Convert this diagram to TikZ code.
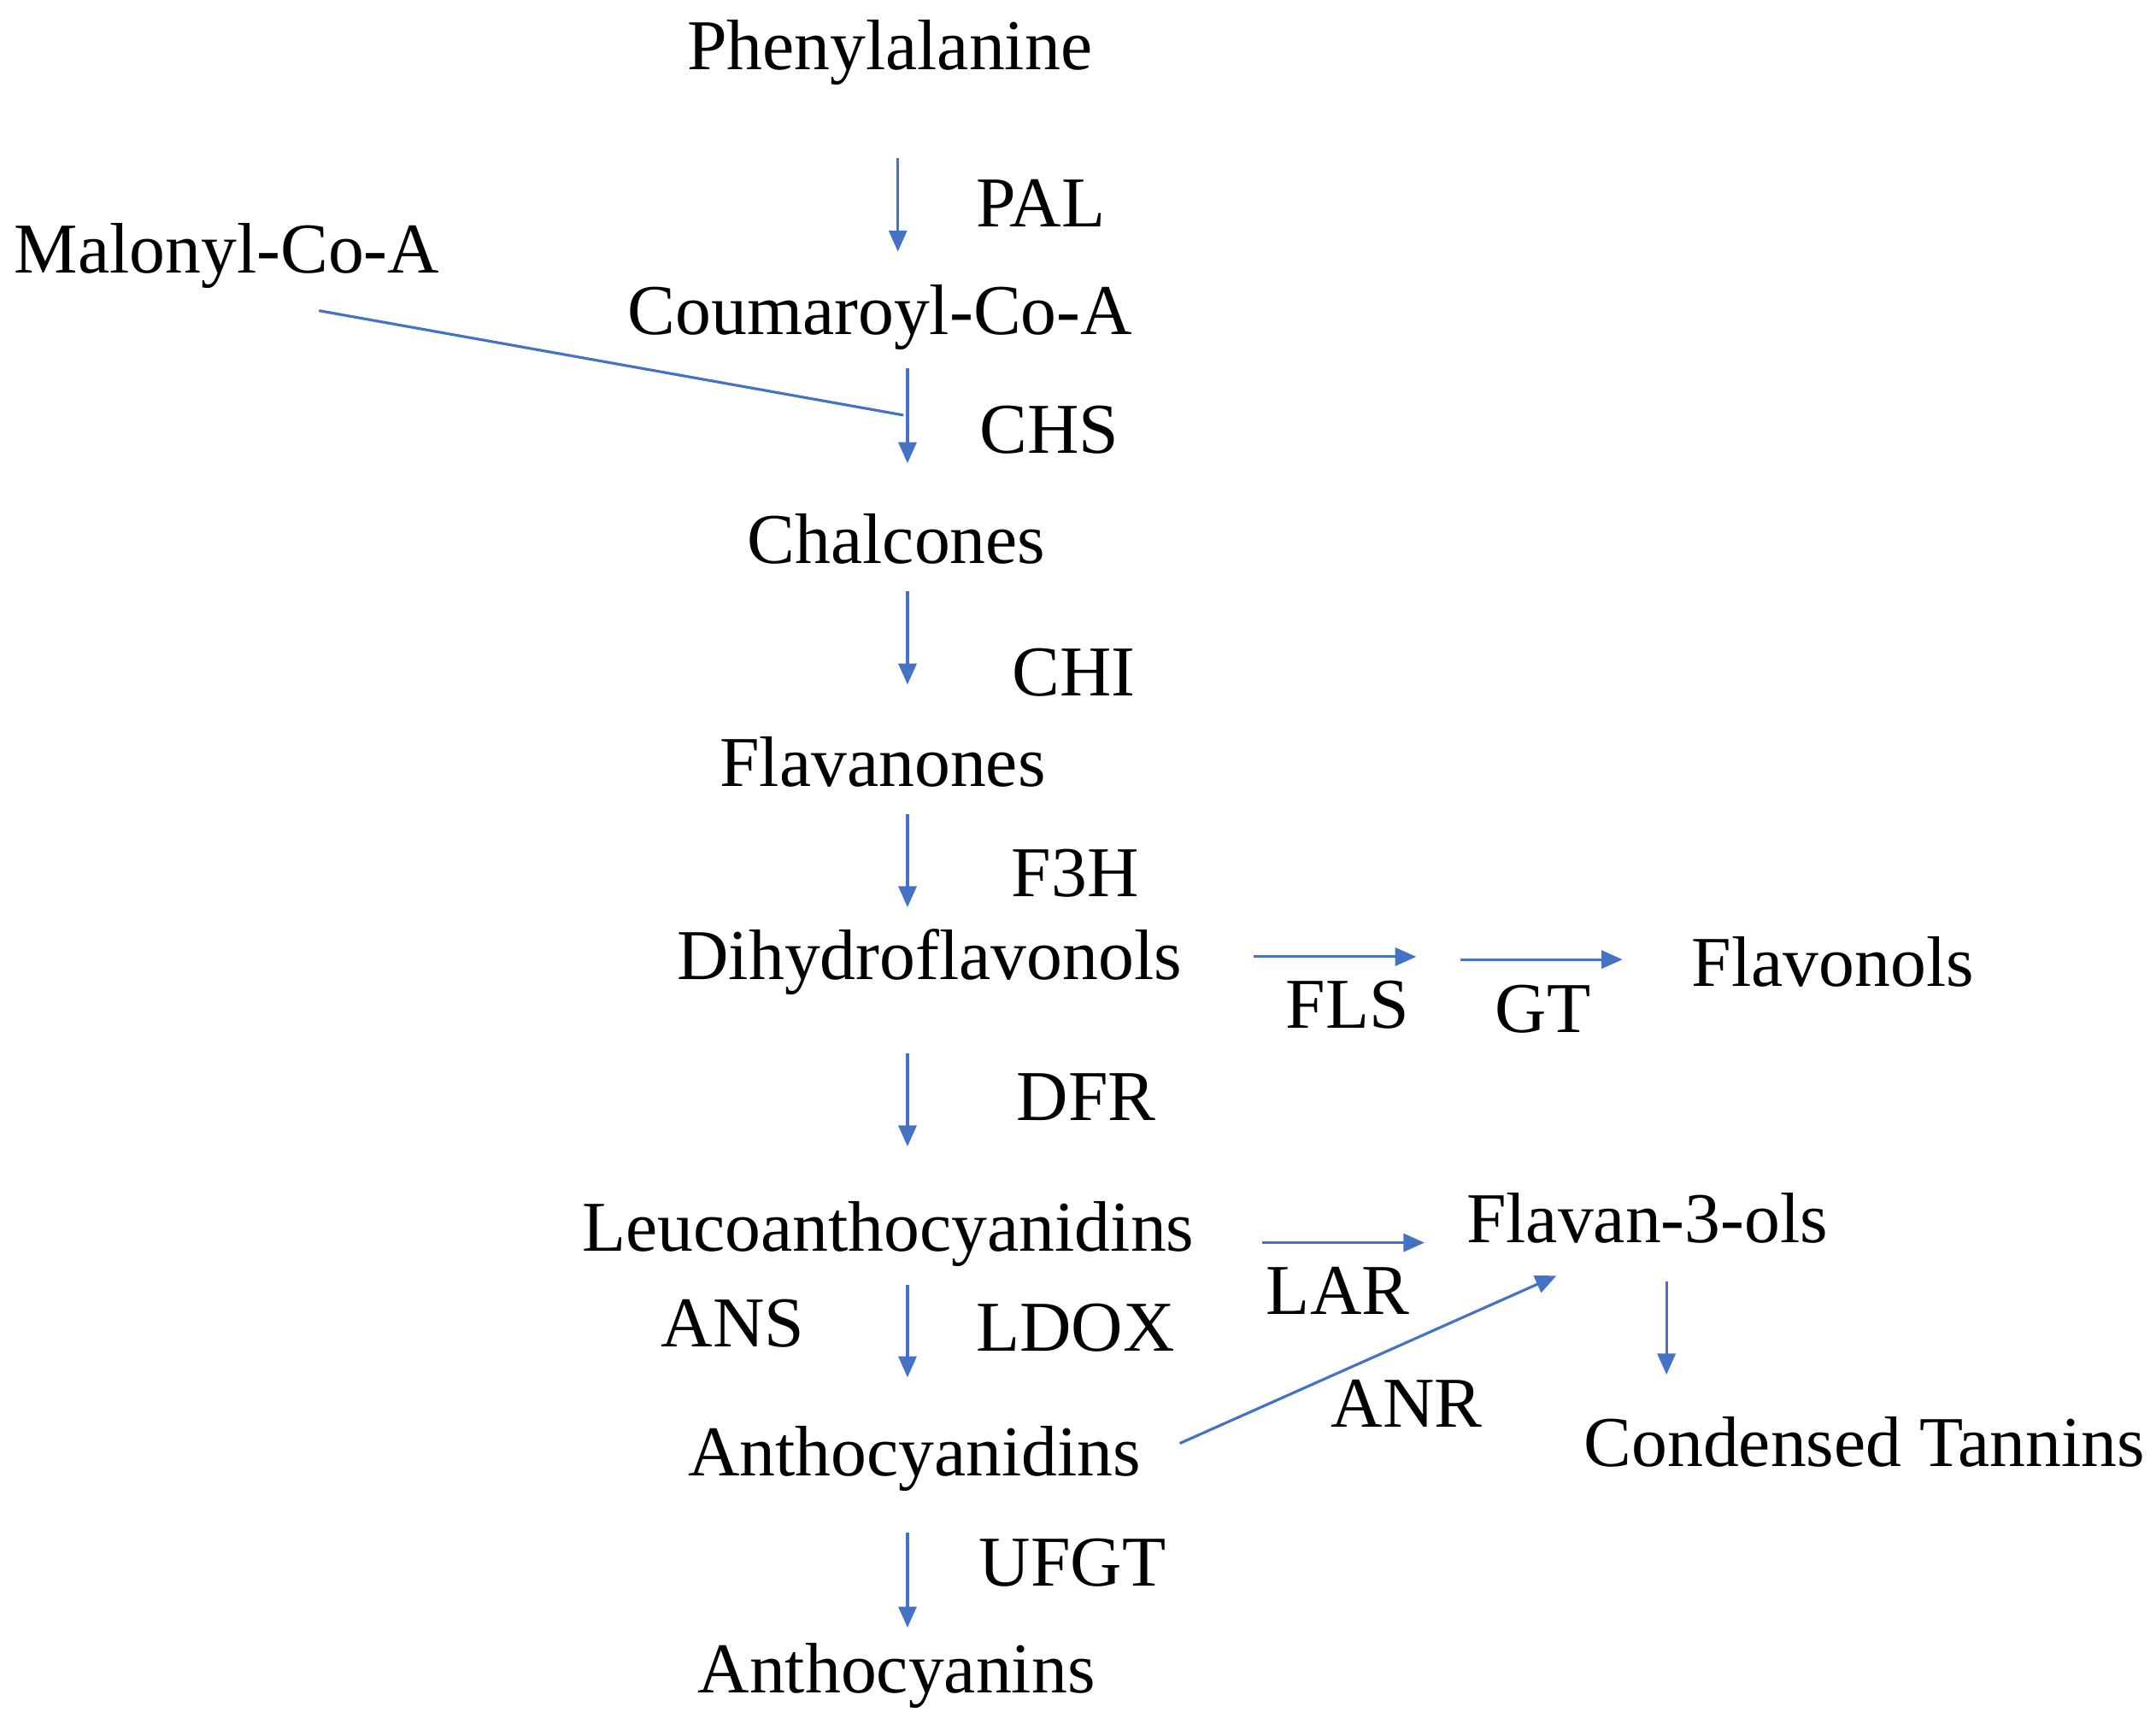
\documentclass[tikz,border=0pt]{standalone}
\usepackage{fontspec}
\setmainfont{Liberation Serif}
\usetikzlibrary{arrows.meta}
\definecolor{arrowblue}{RGB}{68,114,196}

\begin{document}
\begin{tikzpicture}[
    x=0.01609cm, y=-0.01609cm,
    lbl/.style={inner sep=0pt, font=\fontsize{23.8}{26}\selectfont},
    arrow/.style={-{Triangle[length=7pt,width=6pt]}, arrowblue, line width=0.9pt},
    link/.style={arrowblue, line width=0.9pt}
]
    \useasboundingbox (0,0) rectangle (1568,1254);
    % compounds
    \node[lbl] (phe) at (647,38) {Phenylalanine};
    \node[lbl] (mal) at (165,186) {Malonyl-Co-A};
    \node[lbl] (cou) at (640,231) {Coumaroyl-Co-A};
    \node[lbl] (cha) at (652,392) {Chalcones};
    \node[lbl] (flv) at (642,554) {Flavanones};
    \node[lbl] (dhf) at (676,700) {Dihydroflavonols};
    \node[lbl] (fol) at (1333,700) {Flavonols};
    \node[lbl] (leu) at (646,898) {Leucoanthocyanidins};
    \node[lbl] (f3o) at (1198,886) {Flavan-3-ols};
    \node[lbl] (acd) at (665,1061) {Anthocyanidins};
    \node[lbl] (tan) at (1356,1049) {Condensed Tannins};
    \node[lbl] (acn) at (652,1219) {Anthocyanins};
    % enzymes
    \node[lbl] (pal) at (757,148) {PAL};
    \node[lbl] (chs) at (763,313) {CHS};
    \node[lbl] (chi) at (781,489) {CHI};
    \node[lbl] (f3h) at (782,635) {F3H};
    \node[lbl] (fls) at (980,731) {FLS};
    \node[lbl] (gt) at (1122,734) {GT};
    \node[lbl] (dfr) at (790,798) {DFR};
    \node[lbl] (ans) at (533,963) {ANS};
    \node[lbl] (ldox) at (782,966) {LDOX};
    \node[lbl] (lar) at (973,939) {LAR};
    \node[lbl] (anr) at (1023,1021) {ANR};
    \node[lbl] (ufgt) at (780,1137) {UFGT};
    % arrow ends
    \coordinate (a1) at (653,115);  \coordinate (b1) at (653,183);
    \coordinate (a2) at (660,268);  \coordinate (b2) at (660,337);
    \coordinate (m1) at (232,226);  \coordinate (m2) at (657,302);
    \coordinate (a3) at (660,430);  \coordinate (b3) at (660,498);
    \coordinate (a4) at (660,592);  \coordinate (b4) at (660,660);
    \coordinate (a5) at (912,696);  \coordinate (b5) at (1030,696);
    \coordinate (a6) at (1062,698); \coordinate (b6) at (1180,698);
    \coordinate (a7) at (660,766);  \coordinate (b7) at (660,834);
    \coordinate (a8) at (918,904);  \coordinate (b8) at (1036,904);
    \coordinate (a9) at (660,935);  \coordinate (b9) at (660,1002);
    \coordinate (a10) at (858,1050); \coordinate (b10) at (1132,928);
    \coordinate (a11) at (1212,932); \coordinate (b11) at (1212,1000);
    \coordinate (a12) at (660,1115); \coordinate (b12) at (660,1184);

    \draw[arrow] (a1) -- (b1);
    \draw[arrow] (a2) -- (b2);
    \draw[link] (m1) -- (m2);
    \draw[arrow] (a3) -- (b3);
    \draw[arrow] (a4) -- (b4);
    \draw[arrow] (a5) -- (b5);
    \draw[arrow] (a6) -- (b6);
    \draw[arrow] (a7) -- (b7);
    \draw[arrow] (a8) -- (b8);
    \draw[arrow] (a9) -- (b9);
    \draw[arrow] (a10) -- (b10);
    \draw[arrow] (a11) -- (b11);
    \draw[arrow] (a12) -- (b12);
\end{tikzpicture}
\end{document}
